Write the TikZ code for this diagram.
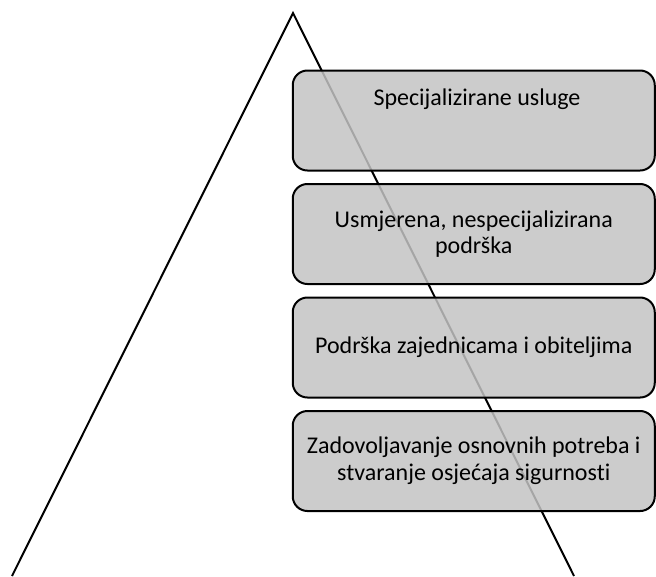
\documentclass[tikz,border=0pt]{standalone}
\usepackage{fontspec}
\setmainfont{Carlito}[Ligatures={NoCommon}]
\begin{document}
\begin{tikzpicture}[x=0.75pt,y=-0.75pt,
  level/.style={draw=black, line width=1.5pt, rounded corners=11pt,
    fill={rgb,255:red,195;green,195;blue,195}, fill opacity=0.85, text opacity=1,
    minimum width=271.5pt, minimum height=75pt, align=center, inner sep=0pt,
    font=\fontsize{18}{20}\selectfont},
  edge/.style={draw=black, line width=1.5pt}]
\useasboundingbox (0,0) rectangle (656,576);
\coordinate (apex) at (293,13);
\coordinate (bl) at (12,576);
\coordinate (br) at (574,576);
\draw[edge] (bl) -- (apex) -- (br);
\node[level] (b1) at (473.75,120.5) {};
\node[font=\fontsize{18}{20}\selectfont, anchor=base] (t1) at (477,105) {Specijalizirane usluge};
\node[level] (b2) at (473.75,234) {Usmjerena, nespecijalizirana\\podrška};
\node[level] (b3) at (473.75,347.5) {Podrška zajednicama i obiteljima};
\node[level] (b4) at (473.75,461) {Zadovoljavanje osnovnih potreba i\\stvaranje osjećaja sigurnosti};
\end{tikzpicture}
\end{document}
